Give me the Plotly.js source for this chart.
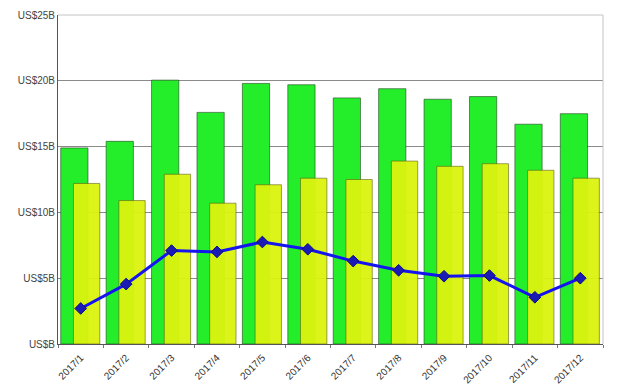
<!DOCTYPE html>
<html>
<head>
<meta charset="utf-8">
<script src="https://cdn.plot.ly/plotly-3.0.1.min.js"></script>
<style>html,body{margin:0;padding:0;background:#fff}#chart{width:627px;height:388px}</style>
</head>
<body>
<div id="chart"></div>
<script>
var months = ["2017/1","2017/2","2017/3","2017/4","2017/5","2017/6","2017/7","2017/8","2017/9","2017/10","2017/11","2017/12"];
var greenValues = [14.9, 15.4, 20.05, 17.6, 19.8, 19.7, 18.7, 19.4, 18.6, 18.8, 16.7, 17.5];
var yellowValues = [12.2, 10.9, 12.9, 10.7, 12.1, 12.6, 12.5, 13.9, 13.5, 13.7, 13.2, 12.6];
var lineValues = [2.7, 4.55, 7.1, 7.0, 7.75, 7.2, 6.3, 5.6, 5.15, 5.2, 3.55, 5.0];
var yTickVals = [0, 5, 10, 15, 20, 25];
var yTickText = ["US$B", "US$5B", "US$10B", "US$15B", "US$20B", "US$25B"];

var traces = [
  {
    type: "bar", x: months, y: greenValues,
    width: 0.6, offset: -0.44,
    marker: {color: "#24ee2a", line: {color: "rgba(30,70,30,0.6)", width: 1}},
    hoverinfo: "none"
  },
  {
    type: "bar", x: months, y: yellowValues,
    width: 0.58, offset: -0.16,
    marker: {color: "#dcf40e", opacity: 0.95, line: {color: "rgba(90,90,20,0.6)", width: 1}},
    hoverinfo: "none"
  },
  {
    type: "scatter", mode: "lines+markers", x: months, y: lineValues,
    line: {color: "#1414f0", width: 3},
    marker: {symbol: "diamond", size: 9, color: "#1a1ab4", line: {color: "#10107a", width: 1}},
    hoverinfo: "none"
  }
];

var layout = {
  width: 627, height: 388,
  margin: {l: 58, r: 24, t: 15, b: 44},
  paper_bgcolor: "#ffffff", plot_bgcolor: "#ffffff",
  showlegend: false,
  barmode: "overlay",
  font: {family: "Arial, Liberation Sans, sans-serif", color: "#333"},
  xaxis: {
    type: "category",
    showgrid: false,
    showline: true, linecolor: "#555", linewidth: 1,
    ticks: "outside", tickson: "boundaries", ticklen: 3, tickcolor: "#777",
    tickangle: -45,
    ticklabelstandoff: 3,
    tickfont: {size: 10, color: "#333", family: "Arial, Liberation Sans, sans-serif"},
    range: [-0.5, 11.5],
    fixedrange: true
  },
  yaxis: {
    range: [0, 25],
    tickvals: yTickVals, ticktext: yTickText,
    showgrid: true, gridcolor: "#8a8a8a", gridwidth: 1,
    showline: true, linecolor: "#555", linewidth: 1,
    zeroline: false,
    ticks: "", ticklen: 0,
    tickfont: {size: 10, color: "#444", family: "Arial, Liberation Sans, sans-serif"},
    fixedrange: true
  },
  shapes: [
    {type: "line", xref: "paper", yref: "paper", x0: 0, x1: 1, y0: 1, y1: 1, line: {color: "#c4c4c4", width: 1}},
    {type: "line", xref: "paper", yref: "paper", x0: 1, x1: 1, y0: 0, y1: 1, line: {color: "#c4c4c4", width: 1}}
  ]
};

Plotly.newPlot("chart", traces, layout, {displayModeBar: false, staticPlot: true});
</script>
</body>
</html>
